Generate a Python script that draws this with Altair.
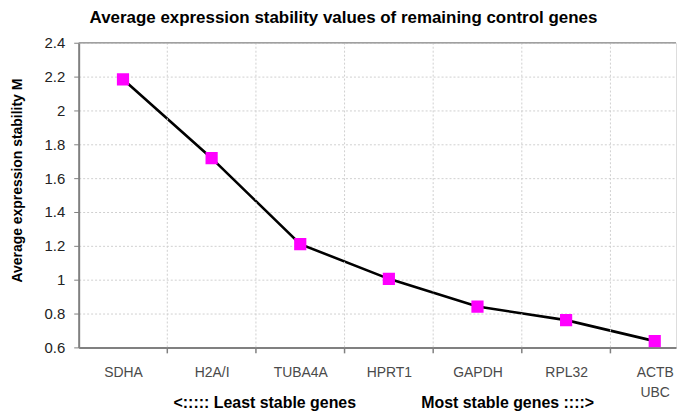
import json
import altair as alt
import pandas as pd

genes = ["SDHA", "H2A/I", "TUBA4A", "HPRT1", "GAPDH", "RPL32", "ACTB\nUBC"]
m_values = [2.184, 1.718, 1.21, 1.005, 0.841, 0.761, 0.637]
y_ticks = [0.6, 0.8, 1.0, 1.2, 1.4, 1.6, 1.8, 2.0, 2.2, 2.4]
boundaries = [0.5, 1.5, 2.5, 3.5, 4.5, 5.5]
bottom_notes = ["<:::::  Least stable genes", "Most stable genes ::::>"]
note_pos = [1.6, 4.34]

W, H = 600, 306
df = pd.DataFrame({"idx": list(range(len(genes))), "gene": genes, "M": m_values})
bdf = pd.DataFrame({"b": boundaries})
ndf = pd.DataFrame({"pos": note_pos, "note": bottom_notes})

label_arr = [g.split("\n") if "\n" in g else g for g in genes]
label_expr = json.dumps(label_arr) + "[datum.value]"

xscale = alt.Scale(domain=[-0.5, 6.24], nice=False, zero=False)
yscale = alt.Scale(domain=[0.6, 2.4], nice=False, zero=False)

x_axis = alt.Axis(values=list(range(len(genes))), labelExpr=label_expr, title=None,
                  grid=False, ticks=False, domain=True, domainColor="#808080",
                  domainWidth=2, labelFont="Liberation Sans", labelFontSize=14,
                  labelColor="#4a4a4a", labelPadding=18, labelLineHeight=20,
                  labelOverlap=False)
y_axis = alt.Axis(values=y_ticks, format="~g", title="Average expression stability M",
                  titleFont="Liberation Sans", titleFontSize=14, titleFontWeight="bold",
                  titleColor="#000000", titlePadding=20, titleY=138,
                  labelFont="Liberation Sans", labelFontSize=15, labelColor="#222222",
                  labelPadding=9, tickSize=5, tickColor="#808080", domainColor="#808080",
                  domainWidth=2, grid=True, gridColor="#d0d0d0", gridDash=[2, 2],
                  gridWidth=1, labelOverlap=False)

base = alt.Chart(df)

line = base.mark_line(color="black", strokeWidth=2.6, clip=True).encode(
    x=alt.X("idx:Q", scale=xscale, axis=x_axis),
    y=alt.Y("M:Q", scale=yscale, axis=y_axis),
)
pts = base.mark_square(color="#ff00ff", opacity=1, size=150, clip=True).encode(
    x=alt.X("idx:Q", scale=xscale, axis=x_axis),
    y=alt.Y("M:Q", scale=yscale, axis=y_axis),
)
vgrid = alt.Chart(bdf).mark_rule(color="#d0d0d0", strokeDash=[2, 2], strokeWidth=1).encode(
    x=alt.X("b:Q", scale=xscale, axis=x_axis),
    y=alt.value(0), y2=alt.value(H),
)
vticks = alt.Chart(bdf).mark_rule(color="#808080", strokeWidth=1.5).encode(
    x=alt.X("b:Q", scale=xscale, axis=x_axis),
    y=alt.value(H), y2=alt.value(H + 6),
)
top = alt.Chart(pd.DataFrame({"t": [2.4]})).mark_rule(color="#a0a0a0", strokeWidth=1.5).encode(
    y=alt.Y("t:Q", scale=yscale, axis=y_axis), x=alt.value(0), x2=alt.value(W),
)
notes = alt.Chart(ndf).mark_text(font="Liberation Sans", fontSize=16, fontWeight="bold",
                                  color="#000000", baseline="middle").encode(
    x=alt.X("pos:Q", scale=xscale, axis=x_axis),
    y=alt.value(H + 56),
    text="note:N",
)

chart = alt.layer(line, pts, vgrid, vticks, top, notes).properties(
    width=W, height=H,
    title=alt.TitleParams("Average expression stability values of remaining control genes",
                          font="Liberation Sans", fontSize=17, fontWeight="bold",
                          color="#000000", anchor="middle", frame="bounds", offset=9),
).configure_view(stroke=None).configure(
    padding={"left": 2, "top": 0, "right": 0, "bottom": 0}
).configure_axis(labelOverlap=False, labelFlush=False)

chart.save("out.html", embed_options={"renderer": "svg", "actions": False})
